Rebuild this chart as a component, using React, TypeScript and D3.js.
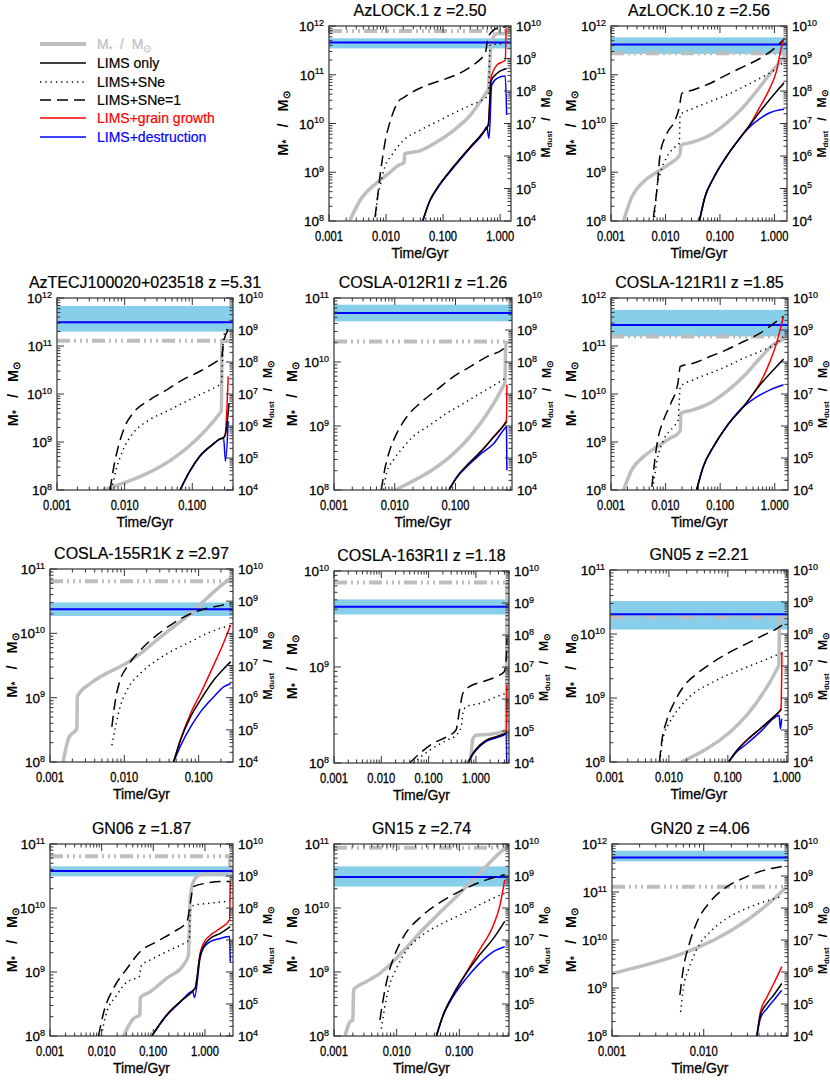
import React from 'react';
import * as d3 from 'd3';

type Pt = [number, number]; // [time / Gyr, log10 mass / Msun]

const GALAXIES = ['AzLOCK.1', 'AzLOCK.10', 'AzTECJ100020+023518', 'COSLA-012R1I', 'COSLA-121R1I',
  'COSLA-155R1K', 'COSLA-163R1I', 'GN05', 'GN06', 'GN15', 'GN20'];
const REDSHIFTS = ['2.50', '2.56', '5.31', '1.26', '1.85', '2.97', '1.18', '2.21', '1.87', '2.74', '4.06'];
const T_END = [1.55, 1.7, 0.4, 0.85, 1.75, 0.29, 5.0, 1.05, 3.5, 0.62, 0.083];
const LOG_MSTAR_TOP = [12, 12, 12, 11, 12, 11, 10, 11, 11, 11, 12];
const LOG_MSTAR_OBS = [11.9, 11.44, 11.11, 10.32, 11.2, 10.81, 9.88, 10.26, 10.81, 10.94, 11.11];
const LOG_MDUST_OBS = [9.49, 9.43, 9.24, 9.53, 9.16, 8.75, 8.88, 8.62, 9.16, 8.97, 9.58];
const LOG_MDUST_LO = [9.31, 9.14, 8.95, 9.27, 8.8, 8.54, 8.64, 8.14, 8.99, 8.67, 9.46];
const LOG_MDUST_HI = [9.62, 9.65, 9.75, 9.79, 9.63, 8.96, 9.11, 9.03, 9.3, 9.3, 9.79];

// stellar mass growth (left axis)
const MSTAR_TRACKS: Pt[][] = [
  [[0.0023, 8.0], [0.0035, 8.42], [0.0068, 8.78], [0.011, 8.97], [0.0163, 9.14], [0.0208, 9.2], [0.0212, 9.38], [0.039, 9.44], [0.077, 9.62], [0.15, 9.85], [0.3, 10.17], [0.56, 10.62], [0.62, 10.7], [0.68, 11.51], [0.75, 11.75], [0.85, 11.84], [1.3, 11.85], [1.35, 11.92], [1.55, 11.92]],
  [[0.0017, 8.0], [0.0024, 8.49], [0.0039, 8.8], [0.0069, 9.0], [0.0122, 9.18], [0.0173, 9.32], [0.0186, 9.38], [0.019, 9.55], [0.032, 9.62], [0.065, 9.76], [0.13, 10.0], [0.27, 10.34], [0.54, 10.75], [0.94, 11.1], [1.35, 11.3], [1.5, 11.37], [1.52, 11.44], [1.7, 11.44]],
  [[0.0048, 8.0], [0.27, 9.64], [0.275, 11.1], [0.4, 11.1]],
  [[0.0102, 8.0], [0.65, 9.67], [0.67, 10.3], [0.85, 10.32]],
  [[0.0017, 8.0], [0.0024, 8.42], [0.004, 8.7], [0.007, 8.9], [0.012, 9.08], [0.017, 9.18], [0.0186, 9.25], [0.019, 9.6], [0.032, 9.67], [0.065, 9.81], [0.13, 10.05], [0.27, 10.37], [0.54, 10.75], [0.94, 11.03], [1.45, 11.15], [1.6, 11.2], [1.75, 11.2]],
  [[0.0015, 8.0], [0.0018, 8.38], [0.0023, 8.52], [0.00233, 9.02], [0.0035, 9.22], [0.0058, 9.38], [0.0098, 9.51], [0.0165, 9.69], [0.0276, 9.9], [0.046, 10.1], [0.078, 10.31], [0.13, 10.55], [0.22, 10.78], [0.27, 10.86]],
  [[0.55, 8.0], [0.75, 8.02], [0.8, 8.12], [0.86, 8.25], [1.0, 8.29], [2.0, 8.3], [4.4, 8.34], [4.55, 9.88], [5.0, 9.88]],
  [[0.0165, 8.0], [0.73, 9.5], [0.76, 10.26], [1.05, 10.26]],
  [[0.0265, 8.0], [0.041, 8.27], [0.055, 8.33], [0.056, 8.6], [0.087, 8.69], [0.18, 8.9], [0.385, 9.11], [0.48, 9.26], [0.52, 10.15], [0.6, 10.41], [0.81, 10.52], [1.48, 10.53], [2.9, 10.52], [3.1, 10.81], [3.5, 10.81]],
  [[0.0015, 8.0], [0.0018, 8.22], [0.002, 8.25], [0.00205, 8.72], [0.0033, 8.85], [0.0054, 8.98], [0.0077, 9.11], [0.014, 9.37], [0.026, 9.66], [0.048, 9.92], [0.09, 10.18], [0.165, 10.44], [0.3, 10.7], [0.56, 10.94], [0.62, 10.96]],
  [[0.001, 9.3], [0.075, 11.05], [0.08, 11.11]],
];

// dust mass growth (right axis)
const LIMS_ONLY: Pt[][] = [
  [[0.044, 4.0], [0.059, 4.64], [0.077, 4.99], [0.15, 5.66], [0.3, 6.28], [0.51, 6.74], [0.62, 6.95], [0.66, 7.7], [0.69, 8.3], [0.88, 8.54], [1.3, 8.69]],
  [[0.042, 4.0], [0.053, 4.74], [0.075, 5.3], [0.13, 5.97], [0.27, 6.69], [0.54, 7.36], [1.08, 7.98], [1.5, 8.25]],
  [[0.066, 4.0], [0.092, 4.59], [0.13, 5.06], [0.2, 5.42], [0.25, 5.58], [0.29, 5.63], [0.31, 5.75], [0.35, 6.72]],
  [[0.078, 4.0], [0.106, 4.42], [0.156, 4.78], [0.26, 5.2], [0.43, 5.67], [0.63, 6.03], [0.7, 6.14]],
  [[0.037, 4.0], [0.049, 4.73], [0.075, 5.35], [0.13, 5.98], [0.27, 6.61], [0.54, 7.29], [1.08, 7.86], [1.45, 8.09]],
  [[0.046, 4.0], [0.057, 4.68], [0.078, 5.41], [0.106, 5.93], [0.16, 6.55], [0.22, 6.91], [0.27, 7.12]],
  [[0.68, 4.0], [0.86, 4.29], [1.2, 4.55], [1.65, 4.71], [2.7, 4.82], [3.7, 4.89], [4.5, 4.95]],
  [[0.103, 4.0], [0.142, 4.36], [0.21, 4.68], [0.355, 5.04], [0.6, 5.41], [0.78, 5.61], [0.82, 5.65]],
  [[0.094, 4.0], [0.18, 4.65], [0.33, 5.07], [0.6, 5.43], [0.65, 5.5], [0.81, 6.53], [0.94, 6.8], [1.27, 7.05], [2.0, 7.21], [3.1, 7.42]],
  [[0.043, 4.0], [0.055, 4.65], [0.079, 5.28], [0.129, 5.96], [0.21, 6.53], [0.35, 7.05], [0.53, 7.58]],
  [[0.038, 4.0], [0.0415, 4.65], [0.049, 5.02], [0.058, 5.28], [0.071, 5.64]],
];

const LIMS_SNE: Pt[][] = [
  [[0.0066, 4.17], [0.007, 4.64], [0.0078, 5.05], [0.0095, 5.66], [0.0125, 6.02], [0.02, 6.48], [0.039, 6.79], [0.077, 7.05], [0.15, 7.31], [0.3, 7.56], [0.58, 7.82], [0.62, 7.87], [0.67, 9.41], [1.3, 9.47]],
  [[0.0063, 4.12], [0.007, 5.05], [0.008, 5.46], [0.0106, 5.97], [0.015, 6.28], [0.018, 6.4], [0.0185, 7.26], [0.032, 7.46], [0.065, 7.67], [0.13, 7.87], [0.27, 8.13], [0.54, 8.39], [1.08, 8.69], [1.5, 8.9]],
  [[0.0064, 4.0], [0.0075, 4.64], [0.0095, 5.26], [0.0134, 5.78], [0.0236, 6.2], [0.042, 6.46], [0.073, 6.72], [0.13, 6.98], [0.23, 7.24], [0.27, 7.34], [0.29, 8.8], [0.34, 9.05]],
  [[0.0065, 4.0], [0.0073, 4.52], [0.0095, 4.94], [0.014, 5.35], [0.02, 5.67], [0.038, 6.03], [0.072, 6.4], [0.137, 6.71], [0.26, 7.03], [0.49, 7.34], [0.67, 7.5]],
  [[0.006, 4.2], [0.007, 4.94], [0.0092, 5.56], [0.014, 5.98], [0.017, 6.19], [0.0186, 7.23], [0.032, 7.44], [0.065, 7.65], [0.13, 7.86], [0.27, 8.12], [0.54, 8.33], [1.08, 8.59], [1.45, 8.8]],
  [[0.0068, 4.52], [0.0076, 5.09], [0.0088, 5.72], [0.0109, 6.24], [0.0165, 6.76], [0.0276, 7.17], [0.046, 7.48], [0.078, 7.74], [0.13, 8.0], [0.22, 8.19], [0.27, 8.23]],
  [[0.047, 4.0], [0.105, 4.4], [0.24, 4.71], [0.38, 4.87], [0.49, 5.13], [0.53, 5.55], [0.62, 5.76], [1.2, 5.86], [2.7, 6.07], [4.4, 6.18]],
  [[0.007, 4.0], [0.0078, 4.68], [0.0104, 5.25], [0.0155, 5.72], [0.026, 6.14], [0.05, 6.45], [0.096, 6.71], [0.184, 6.92], [0.355, 7.13], [0.68, 7.34], [0.83, 7.39]],
  [[0.0099, 4.0], [0.012, 4.65], [0.0197, 5.28], [0.031, 5.69], [0.045, 5.8], [0.055, 5.88], [0.057, 6.17], [0.1, 6.42], [0.2, 6.67], [0.45, 6.95], [0.5, 7.0], [0.52, 7.89], [0.6, 8.08], [1.27, 8.15], [3.1, 8.22]],
  [[0.0057, 4.23], [0.0064, 4.86], [0.0077, 5.59], [0.0099, 6.11], [0.014, 6.64], [0.026, 7.16], [0.048, 7.47], [0.09, 7.73], [0.165, 7.99], [0.3, 8.25], [0.53, 8.46]],
  [[0.0056, 4.75], [0.006, 5.49], [0.0069, 6.11], [0.0085, 6.74], [0.0118, 7.26], [0.018, 7.68], [0.027, 7.94], [0.041, 8.15], [0.071, 8.36]],
];

const LIMS_SNE1: Pt[][] = [
  [[0.0064, 4.12], [0.007, 4.64], [0.0078, 5.35], [0.0095, 6.38], [0.0125, 7.2], [0.0163, 7.67], [0.0213, 7.82], [0.54, 9.11], [0.62, 9.67], [0.88, 9.93], [1.3, 9.98]],
  [[0.006, 4.12], [0.007, 5.0], [0.008, 6.07], [0.0106, 6.69], [0.015, 7.1], [0.018, 7.51], [0.0199, 7.92], [0.032, 8.03], [0.065, 8.23], [0.13, 8.49], [0.27, 8.75], [0.54, 9.0], [1.08, 9.36], [1.5, 9.6]],
  [[0.0061, 4.0], [0.0068, 4.64], [0.0081, 5.37], [0.0101, 5.99], [0.0134, 6.41], [0.0236, 6.82], [0.042, 7.13], [0.073, 7.45], [0.13, 7.71], [0.23, 8.02], [0.27, 8.12], [0.29, 8.6], [0.34, 9.0]],
  [[0.006, 4.0], [0.0068, 4.62], [0.0083, 5.25], [0.0108, 5.77], [0.0158, 6.29], [0.026, 6.71], [0.049, 7.13], [0.094, 7.55], [0.177, 7.86], [0.33, 8.17], [0.63, 8.43], [0.67, 8.49]],
  [[0.0056, 4.1], [0.007, 5.46], [0.0092, 6.19], [0.0125, 6.71], [0.017, 7.39], [0.0186, 7.86], [0.032, 7.96], [0.065, 8.17], [0.13, 8.38], [0.27, 8.64], [0.54, 8.9], [1.08, 9.27], [1.45, 9.43]],
  [[0.0068, 5.09], [0.0076, 5.93], [0.0088, 6.55], [0.0109, 6.96], [0.0165, 7.48], [0.0276, 7.95], [0.046, 8.32], [0.078, 8.61], [0.13, 8.78], [0.22, 8.89], [0.27, 8.94]],
  [[0.04, 4.0], [0.064, 4.29], [0.123, 4.61], [0.24, 4.82], [0.38, 5.03], [0.45, 5.65], [0.53, 6.18], [0.73, 6.39], [1.4, 6.54], [2.7, 6.7], [4.0, 6.86], [4.4, 7.33], [4.5, 7.9]],
  [[0.0069, 4.0], [0.0075, 4.6], [0.0092, 5.3], [0.012, 5.82], [0.0176, 6.35], [0.03, 6.76], [0.057, 7.13], [0.11, 7.44], [0.21, 7.7], [0.4, 7.96], [0.68, 8.17], [0.83, 8.28]],
  [[0.0087, 4.0], [0.011, 4.75], [0.017, 5.49], [0.031, 6.11], [0.056, 6.64], [0.117, 6.95], [0.25, 7.26], [0.45, 7.58], [0.52, 8.15], [0.6, 8.67], [1.1, 8.78], [2.0, 8.83], [3.1, 8.83]],
  [[0.0054, 4.5], [0.006, 5.07], [0.0073, 5.9], [0.0093, 6.53], [0.0134, 7.16], [0.023, 7.68], [0.043, 8.1], [0.079, 8.41], [0.146, 8.67], [0.27, 8.88], [0.53, 9.04]],
  [[0.0055, 5.28], [0.006, 6.11], [0.0069, 6.84], [0.0085, 7.58], [0.0118, 8.2], [0.018, 8.67], [0.027, 8.93], [0.041, 9.14], [0.071, 9.3]],
];

const GRAIN_GROWTH: Pt[][] = [
  [[0.044, 4.0], [0.059, 4.64], [0.077, 4.99], [0.15, 5.66], [0.3, 6.28], [0.51, 6.74], [0.62, 6.97], [0.66, 7.8], [0.69, 8.4], [0.88, 8.8], [1.23, 8.95], [1.27, 9.93]],
  [[0.042, 4.0], [0.053, 4.74], [0.075, 5.3], [0.13, 5.97], [0.27, 6.7], [0.35, 6.95], [0.54, 7.51], [0.82, 8.08], [1.08, 8.59], [1.35, 9.36], [1.5, 9.62]],
  [[0.066, 4.0], [0.092, 4.59], [0.13, 5.06], [0.2, 5.42], [0.25, 5.58], [0.3, 5.68], [0.31, 5.8], [0.34, 7.55]],
  [[0.078, 4.0], [0.106, 4.42], [0.156, 4.78], [0.26, 5.2], [0.43, 5.68], [0.63, 6.05], [0.69, 6.2], [0.7, 7.29]],
  [[0.037, 4.0], [0.049, 4.73], [0.075, 5.35], [0.13, 5.98], [0.27, 6.62], [0.35, 6.87], [0.54, 7.35], [0.82, 8.02], [1.08, 8.59], [1.35, 9.22], [1.45, 9.43]],
  [[0.046, 4.0], [0.057, 4.7], [0.078, 5.51], [0.106, 6.13], [0.16, 7.02], [0.22, 7.74], [0.27, 8.26]],
  [[0.68, 4.0], [0.86, 4.29], [1.2, 4.55], [1.65, 4.71], [2.7, 4.82], [3.7, 4.89], [4.4, 4.94], [4.5, 6.44]],
  [[0.103, 4.0], [0.142, 4.36], [0.21, 4.68], [0.355, 5.04], [0.6, 5.41], [0.78, 5.63], [0.8, 5.7], [0.83, 7.44]],
  [[0.094, 4.0], [0.18, 4.65], [0.33, 5.07], [0.6, 5.43], [0.65, 5.5], [0.81, 6.6], [0.94, 6.9], [1.27, 7.15], [2.0, 7.37], [3.0, 7.63], [3.1, 8.83]],
  [[0.043, 4.0], [0.055, 4.65], [0.079, 5.28], [0.129, 5.98], [0.21, 6.69], [0.35, 7.47], [0.44, 8.05], [0.53, 8.88]],
  [[0.038, 4.0], [0.0415, 4.75], [0.049, 5.22], [0.058, 5.64], [0.071, 6.17]],
];

const DESTRUCTION: Pt[][] = [
  [[0.044, 4.0], [0.059, 4.63], [0.077, 4.97], [0.15, 5.63], [0.3, 6.25], [0.51, 6.72], [0.58, 6.9], [0.64, 6.54], [0.71, 8.18], [0.88, 8.39], [1.23, 8.46], [1.3, 7.26]],
  [[0.042, 4.0], [0.053, 4.74], [0.075, 5.3], [0.13, 5.97], [0.23, 6.55], [0.3, 6.78], [0.54, 7.15], [0.82, 7.33], [1.35, 7.43], [1.5, 7.44]],
  [[0.066, 4.0], [0.092, 4.59], [0.13, 5.06], [0.2, 5.42], [0.25, 5.58], [0.29, 5.63], [0.31, 4.9], [0.34, 6.15]],
  [[0.078, 4.0], [0.106, 4.4], [0.156, 4.74], [0.26, 5.13], [0.43, 5.46], [0.63, 5.9], [0.69, 5.98], [0.7, 4.62]],
  [[0.037, 4.0], [0.049, 4.73], [0.075, 5.35], [0.13, 5.97], [0.23, 6.5], [0.35, 6.76], [0.54, 6.97], [0.82, 7.13], [1.45, 7.29]],
  [[0.046, 4.0], [0.057, 4.5], [0.078, 5.09], [0.106, 5.56], [0.16, 6.03], [0.22, 6.34], [0.27, 6.44]],
  [[0.68, 4.0], [0.86, 4.27], [1.2, 4.52], [1.65, 4.68], [2.7, 4.79], [3.7, 4.86], [4.4, 4.91], [4.5, 3.5]],
  [[0.103, 4.0], [0.142, 4.32], [0.21, 4.57], [0.355, 4.94], [0.65, 5.41], [0.74, 5.46], [0.78, 5.04], [0.82, 5.35]],
  [[0.094, 4.0], [0.18, 4.63], [0.33, 5.05], [0.58, 5.4], [0.63, 5.2], [0.81, 6.45], [0.94, 6.75], [1.27, 6.95], [2.0, 7.05], [3.0, 7.11], [3.1, 6.32]],
  [[0.043, 4.0], [0.055, 4.63], [0.079, 5.22], [0.129, 5.8], [0.21, 6.27], [0.35, 6.64], [0.53, 6.79]],
  [[0.038, 4.0], [0.0415, 4.55], [0.049, 4.86], [0.058, 5.12], [0.071, 5.43]],
];

// plot boxes: left, top, right, bottom, x of the left axis title
const BOXES: number[][] = [
  [329, 26, 511, 221, 283], [611, 26, 787, 221, 571],
  [57, 298, 233, 490, 13], [334, 298, 512, 490, 292], [611, 298, 788, 490, 571],
  [50, 569, 233, 762, 12], [334, 571, 509, 763, 292], [610, 570, 788, 762, 571],
  [50, 844, 233, 1036, 12], [334, 844, 509, 1036, 292], [612, 844, 788, 1036, 571],
];

const FONT = "'Liberation Sans', Arial, Helvetica, sans-serif";
const GRAY = '#bebebe';
const BAND = '#87ceeb';
const DOT = '1.3 4';
const DASH = '11 6';
const DASH3DOT = '13 4 2 4 2 4 2 4';
const HEAVY = { stroke: '#000', strokeWidth: 0.3 };

const DUST_SERIES = [
  { data: LIMS_SNE, color: '#000', dash: DOT },
  { data: LIMS_SNE1, color: '#000', dash: DASH },
  { data: GRAIN_GROWTH, color: '#ff0000', dash: undefined },
  { data: DESTRUCTION, color: '#0000ff', dash: undefined },
  { data: LIMS_ONLY, color: '#000', dash: undefined },
];

function logTicks(lo: number, hi: number) {
  const major: number[] = [];
  const minor: number[] = [];
  for (let k = Math.floor(Math.log10(lo)); k <= Math.ceil(Math.log10(hi)); k++) {
    for (let m = 1; m <= 9; m++) {
      const v = m * Math.pow(10, k);
      if (v < lo * 0.9999 || v > hi * 1.0001) continue;
      (m === 1 ? major : minor).push(v);
    }
  }
  return { major, minor };
}

function Pow({ x, y, v, anchor }: { x: number; y: number; v: number; anchor: string }) {
  return (
    <text x={x} y={y} textAnchor={anchor} fontSize={13.5} fontFamily={FONT} {...HEAVY}>
      10<tspan dy={-5.5} fontSize={9} strokeWidth={0.2}>{Math.round(Math.log10(v))}</tspan>
    </text>
  );
}

function Panel({ i }: { i: number }) {
  const [x0, y0, x1, y1, labX] = BOXES[i];
  const x = d3.scaleLog().domain([0.001, T_END[i]]).range([x0, x1]);
  const yL = d3.scaleLog().domain([1e8, 10 ** LOG_MSTAR_TOP[i]]).range([y1, y0]);
  const yR = d3.scaleLog().domain([1e4, 1e10]).range([y1, y0]);
  const lineL = d3.line<Pt>().x(d => x(d[0])).y(d => yL(10 ** d[1])).curve(d3.curveMonotoneX);
  const lineR = d3.line<Pt>().x(d => x(d[0])).y(d => yR(10 ** d[1])).curve(d3.curveMonotoneX);
  const xt = logTicks(0.001, T_END[i]);
  const lt = logTicks(1e8, 10 ** LOG_MSTAR_TOP[i]);
  const rt = logTicks(1e4, 1e10);
  const cx = (x0 + x1) / 2;
  const cy = (y0 + y1) / 2;
  const clip = `clip-${i}`;
  const bandTop = yR(10 ** LOG_MDUST_HI[i]);
  const bandBot = yR(10 ** LOG_MDUST_LO[i]);
  const obsStar = yL(10 ** LOG_MSTAR_OBS[i]);
  const obsDust = yR(10 ** LOG_MDUST_OBS[i]);
  const rx = x1 + 35;

  return (
    <g>
      <defs>
        <clipPath id={clip}><rect x={x0} y={y0} width={x1 - x0} height={y1 - y0} /></clipPath>
      </defs>
      <g clipPath={`url(#${clip})`}>
        <rect x={x0} y={bandTop} width={x1 - x0} height={bandBot - bandTop} fill={BAND} />
        <path d={lineL(MSTAR_TRACKS[i]) || ''} fill="none" stroke={GRAY} strokeWidth={3.5} strokeLinejoin="round" />
        <line x1={x0} x2={x1} y1={obsStar} y2={obsStar} stroke={GRAY} strokeWidth={4} strokeDasharray={DASH3DOT} />
        <line x1={x0} x2={x1} y1={obsDust} y2={obsDust} stroke="#0000ff" strokeWidth={2} />
        {DUST_SERIES.map((s, k) => (
          <path key={k} d={lineR(s.data[i]) || ''} fill="none" stroke={s.color} strokeWidth={1.5}
            strokeDasharray={s.dash} />
        ))}
      </g>
      <rect x={x0} y={y0} width={x1 - x0} height={y1 - y0} fill="none" stroke="#333" strokeWidth={1.2} />
      {xt.major.map(v => (
        <g key={`xm${v}`}>
          <line x1={x(v)} x2={x(v)} y1={y1} y2={y1 - 7} stroke="#333" />
          <line x1={x(v)} x2={x(v)} y1={y0} y2={y0 + 7} stroke="#333" />
          <text x={x(v)} y={y1 + 20} textAnchor="middle" fontSize={14} fontFamily={FONT}
            textLength={28} lengthAdjust="spacingAndGlyphs" {...HEAVY}>{v.toFixed(3)}</text>
        </g>
      ))}
      {xt.minor.map(v => (
        <g key={`xn${v}`}>
          <line x1={x(v)} x2={x(v)} y1={y1} y2={y1 - 3.5} stroke="#333" />
          <line x1={x(v)} x2={x(v)} y1={y0} y2={y0 + 3.5} stroke="#333" />
        </g>
      ))}
      {lt.major.map(v => (
        <g key={`lm${v}`}>
          <line x1={x0} x2={x0 + 7} y1={yL(v)} y2={yL(v)} stroke="#333" />
          <Pow x={x0 - 5} y={yL(v) + 5} v={v} anchor="end" />
        </g>
      ))}
      {lt.minor.map(v => (
        <line key={`ln${v}`} x1={x0} x2={x0 + 3.5} y1={yL(v)} y2={yL(v)} stroke="#333" />
      ))}
      {rt.major.map(v => (
        <g key={`rm${v}`}>
          <line x1={x1} x2={x1 - 7} y1={yR(v)} y2={yR(v)} stroke="#333" />
          <Pow x={x1 + 5} y={yR(v) + 5} v={v} anchor="start" />
        </g>
      ))}
      {rt.minor.map(v => (
        <line key={`rn${v}`} x1={x1} x2={x1 - 3.5} y1={yR(v)} y2={yR(v)} stroke="#333" />
      ))}
      <text x={cx} y={y0 - 10} textAnchor="middle" fontSize={16} fontFamily={FONT} stroke="#000" strokeWidth={0.2}>
        {`${GALAXIES[i]} z =${REDSHIFTS[i]}`}
      </text>
      <text x={cx} y={y1 + 37} textAnchor="middle" fontSize={14} fontFamily={FONT} {...HEAVY}>Time/Gyr</text>
      <text transform={`translate(${labX},${cy}) rotate(-90)`} textAnchor="middle" dominantBaseline="central"
        fontSize={14.5} fontWeight="bold" fontFamily={FONT} style={{ whiteSpace: 'pre' }}>
        M<tspan dy={3} fontSize={10}>*</tspan><tspan dy={-3}>   /   M</tspan><tspan dy={3} fontSize={10}>⊙</tspan>
      </text>
      <text transform={`translate(${rx},${cy}) rotate(-90)`} textAnchor="middle" dominantBaseline="central"
        fontSize={12} fontWeight="bold" fontFamily={FONT} style={{ whiteSpace: 'pre' }}>
        M<tspan dy={3} fontSize={8}>dust</tspan><tspan dy={-3}>   /   M</tspan><tspan dy={3} fontSize={9}>⊙</tspan>
      </text>
    </g>
  );
}

const LEGEND = [
  { color: GRAY, text: GRAY, width: 4, dash: undefined },
  { label: 'LIMS only', color: '#000', text: '#000', width: 1.5, dash: undefined },
  { label: 'LIMS+SNe', color: '#000', text: '#000', width: 1.5, dash: DOT },
  { label: 'LIMS+SNe=1', color: '#000', text: '#000', width: 1.5, dash: DASH },
  { label: 'LIMS+grain growth', color: '#ff0000', text: '#ff0000', width: 1.5, dash: undefined },
  { label: 'LIMS+destruction', color: '#0000ff', text: '#0000ff', width: 1.5, dash: undefined },
];
const LEGEND_Y = [44, 63, 82, 100, 118, 137];

function Legend() {
  return (
    <g>
      {LEGEND.map((d, k) => (
        <g key={k}>
          <line x1={40} x2={86} y1={LEGEND_Y[k]} y2={LEGEND_Y[k]} stroke={d.color} strokeWidth={d.width}
            strokeDasharray={d.dash} />
          <text x={97} y={LEGEND_Y[k] + 5} fill={d.text} stroke={d.text} strokeWidth={0.2} fontSize={14}
            fontFamily={FONT} style={{ whiteSpace: 'pre' }}>
            {d.label ?? (
              <>M<tspan dy={3} fontSize={9}>*</tspan><tspan dy={-3}>  /  M</tspan><tspan dy={3} fontSize={10}>⊙</tspan></>
            )}
          </text>
        </g>
      ))}
    </g>
  );
}

export default function App() {
  return (
    <svg width={830} height={1090} style={{ position: 'absolute', left: 0, top: 0, background: '#fff' }}>
      <rect width={830} height={1090} fill="#fff" />
      <Legend />
      {GALAXIES.map((_, i) => <Panel key={i} i={i} />)}
    </svg>
  );
}
